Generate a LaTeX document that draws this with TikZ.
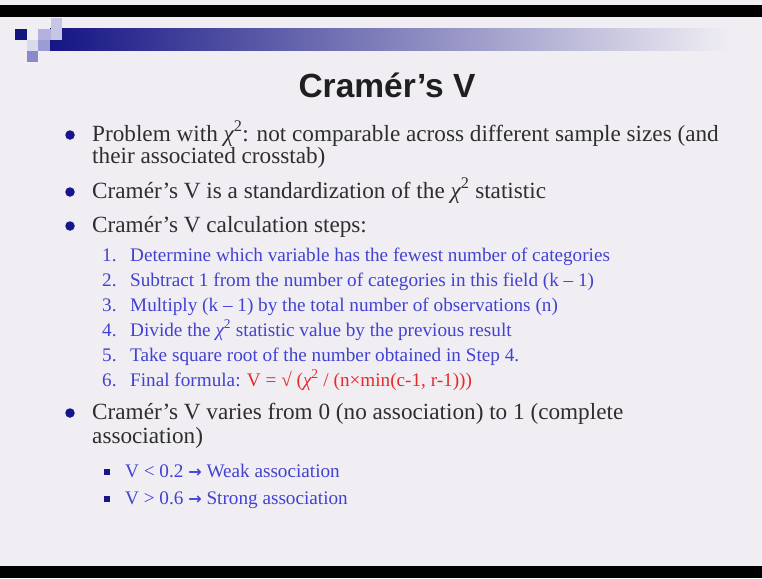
\documentclass[tikz,border=0pt]{standalone}
\usepackage{fontspec}
\setmainfont{Liberation Serif}
\newfontfamily\titlefont{Liberation Sans}
\newfontfamily\arrowfont{DejaVu Sans}

\definecolor{slidebg}{HTML}{F0EEF3}
\definecolor{navy}{HTML}{16168C}
\definecolor{bodytext}{HTML}{2E2E2E}
\definecolor{steptext}{HTML}{4242D2}
\definecolor{formulared}{HTML}{E62A2A}
\definecolor{sqA}{HTML}{C6C6E4}
\definecolor{sqB}{HTML}{B2B2DC}
\definecolor{sqC}{HTML}{DADAEE}
\definecolor{sqD}{HTML}{9C9CD4}
\definecolor{sqE}{HTML}{8A8AC8}

\newcommand{\chisq}{{\itshape χ}\textsuperscript{2}}
\newcommand{\thickarrow}{{\arrowfont\bfseries\fontsize{16}{18}\selectfont →}}

\tikzset{
  txt/.style={inner sep=0pt, anchor=base west},
  bodyline/.style={txt, text=bodytext, font=\fontsize{23.2}{24}\selectfont},
  stepline/.style={txt, text=steptext, font=\fontsize{19.2}{21}\selectfont},
  dotmark/.style={circle, fill=navy, inner sep=0pt, minimum size=9.5pt},
  sqmark/.style={rectangle, fill=navy, inner sep=0pt, minimum size=6.5pt},
}

\begin{document}
\begin{tikzpicture}[x=1pt, y=-1pt]
\useasboundingbox (0,0) rectangle (762,578);
% slide background and letterbox bars
\fill[slidebg] (0,0) rectangle (762,578);
\fill[black] (0,5) rectangle (762,17);
\fill[black] (0,566) rectangle (762,578);

% header band fading to the right
\shade[left color=navy!95!black, right color=slidebg] (50,29) rectangle (730,51);
% decorative squares of the header
\fill[navy!90!black] (15,29) rectangle (27,40);
\fill[sqA] (51,18) rectangle (62,40);
\fill[sqB] (38,29) rectangle (51,40);
\fill[sqC] (27,40) rectangle (38,51);
\fill[sqD] (38,40) rectangle (50,51);
\fill[sqE] (27,51) rectangle (38,62);

% title
\node[inner sep=0pt, anchor=base, text=black!88, font=\titlefont\bfseries\fontsize{33.5}{36}\selectfont] (title) at (387,97) {Cramér’s V};

% first-level bullets
\node[dotmark] (d1) at (70,135) {};
\node[bodyline] (b1a) at (92,141) {Problem with \chisq: not comparable across different sample sizes (and};
\node[bodyline] (b1b) at (92,163) {their associated crosstab)};

\node[dotmark] (d2) at (70,192) {};
\node[bodyline] (b2) at (92,198) {Cramér’s V is a standardization of the \chisq{} statistic};

\node[dotmark] (d3) at (70,226) {};
\node[bodyline] (b3) at (92,232) {Cramér’s V calculation steps:};

% numbered steps
\foreach \n/\y in {1/261, 2/286, 3/311, 4/336, 5/361, 6/386}
  \node[stepline] (n\n) at (102,\y) {\n.};
\node[stepline] (s1) at (130,261) {Determine which variable has the fewest number of categories};
\node[stepline] (s2) at (130,286) {Subtract 1 from the number of categories in this field (k – 1)};
\node[stepline] (s3) at (130,311) {Multiply (k – 1) by the total number of observations (n)};
\node[stepline] (s4) at (130,336) {Divide the \chisq{} statistic value by the previous result};
\node[stepline] (s5) at (130,361) {Take square root of the number obtained in Step 4.};
\node[stepline] (s6) at (130,386) {Final formula: \textcolor{formulared}{V = √ (\chisq{} / (n×min(c-1, r-1)))}};

\node[dotmark] (d4) at (70,413) {};
\node[bodyline] (b4a) at (92,419) {Cramér’s V varies from 0 (no association) to 1 (complete};
\node[bodyline] (b4b) at (92,443) {association)};

% second-level bullets
\node[sqmark] (q1) at (107,472) {};
\node[stepline] (v1) at (125,477) {V < 0.2 \thickarrow{} Weak association};
\node[sqmark] (q2) at (107,499) {};
\node[stepline] (v2) at (125,504) {V > 0.6 \thickarrow{} Strong association};
\end{tikzpicture}
\end{document}
